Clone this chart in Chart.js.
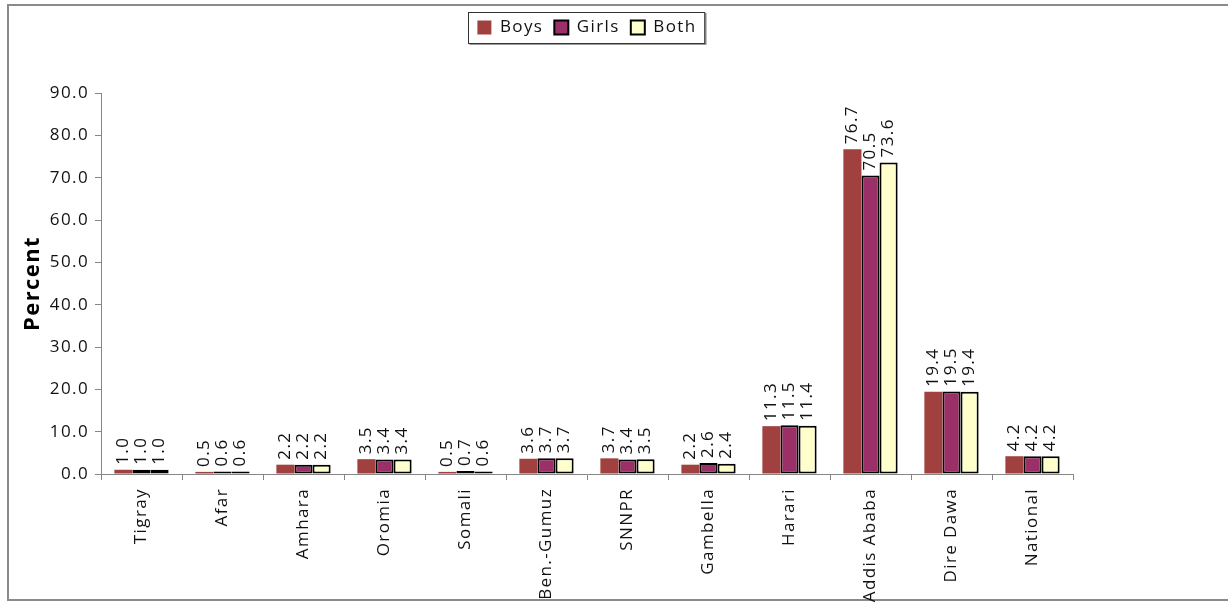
<!DOCTYPE html>
<html>
<head>
<meta charset="utf-8">
<script src="https://cdn.jsdelivr.net/npm/chart.js@4/dist/chart.umd.min.js"></script>
<style>
  html, body { margin: 0; padding: 0; background: #fff; }
  #wrap { width: 1228px; height: 606px; }
</style>
</head>
<body>
<div id="wrap"><canvas id="chart" width="1228" height="606"></canvas></div>
<script>
const regions = ['Tigray', 'Afar', 'Amhara', 'Oromia', 'Somali', 'Ben.-Gumuz', 'SNNPR', 'Gambella', 'Harari', 'Addis Ababa', 'Dire Dawa', 'National'];
const boys  = [1.0, 0.5, 2.2, 3.5, 0.5, 3.6, 3.7, 2.2, 11.3, 76.7, 19.4, 4.2];
const girls = [1.0, 0.6, 2.2, 3.4, 0.7, 3.7, 3.4, 2.6, 11.5, 70.5, 19.5, 4.2];
const both  = [1.0, 0.6, 2.2, 3.4, 0.6, 3.7, 3.5, 2.4, 11.4, 73.6, 19.4, 4.2];
const yTicks = [0, 10, 20, 30, 40, 50, 60, 70, 80, 90];

const FONT = '"Open Sans", sans-serif';
const SPACING = '1.4px';

// spaced-out text like the original PDF render
const spacing = {
  id: 'spacing',
  beforeUpdate(chart) { chart.ctx.letterSpacing = SPACING; },
  beforeDraw(chart) { chart.ctx.letterSpacing = SPACING; }
};

// extra room under the legend
const legendGap = {
  id: 'legendGap',
  beforeInit(chart) {
    const fit = chart.legend.fit;
    chart.legend.fit = function () {
      fit.bind(chart.legend)();
      this.height += 47;
    };
  }
};

// outer frame + legend box
const frame = {
  id: 'frame',
  beforeDraw(chart) {
    const ctx = chart.ctx;
    ctx.save();
    ctx.strokeStyle = '#8a8a8a';
    ctx.lineWidth = 2;
    ctx.beginPath();
    ctx.moveTo(1230, 5);
    ctx.lineTo(8, 5);
    ctx.lineTo(8, 600);
    ctx.lineTo(1230, 600);
    ctx.stroke();
    ctx.restore();
  },
  afterDraw(chart) {
    const boxes = chart.legend.legendHitBoxes;
    if (!boxes || !boxes.length) return;
    const left = Math.min(...boxes.map(b => b.left)) - 9;
    const right = Math.max(...boxes.map(b => b.left + b.width)) + 8;
    const top = Math.min(...boxes.map(b => b.top)) - 7;
    const bottom = Math.max(...boxes.map(b => b.top + b.height)) + 7;
    const ctx = chart.ctx;
    ctx.save();
    ctx.strokeStyle = '#9a9a9a';
    ctx.lineWidth = 2;
    ctx.beginPath();
    ctx.moveTo(left + 1, bottom + 1);
    ctx.lineTo(right + 1, bottom + 1);
    ctx.lineTo(right + 1, top + 1);
    ctx.stroke();
    ctx.strokeStyle = '#333';
    ctx.lineWidth = 1;
    ctx.strokeRect(Math.round(left) + 0.5, Math.round(top) + 0.5, right - left, bottom - top);
    ctx.restore();
  }
};

// rotated value labels above bars
const valueLabels = {
  id: 'valueLabels',
  afterDatasetsDraw(chart) {
    const ctx = chart.ctx;
    chart.data.datasets.forEach((ds, i) => {
      chart.getDatasetMeta(i).data.forEach((bar, j) => {
        ctx.save();
        ctx.font = '17px ' + FONT;
        ctx.fillStyle = '#111';
        ctx.translate(bar.x, bar.y - 5);
        ctx.rotate(-Math.PI / 2);
        ctx.textAlign = 'left';
        ctx.textBaseline = 'middle';
        ctx.fillText(ds.data[j].toFixed(1), 0, 0);
        ctx.restore();
      });
    });
  }
};

new Chart(document.getElementById('chart'), {
  type: 'bar',
  data: {
    labels: regions,
    datasets: [
      { label: 'Boys', data: boys, backgroundColor: '#a0413f', borderWidth: 0 },
      { label: 'Girls', data: girls, backgroundColor: '#9b2f68', borderColor: '#000', borderWidth: 2, borderSkipped: false },
      { label: 'Both', data: both, backgroundColor: '#ffffcc', borderColor: '#000', borderWidth: 2, borderSkipped: false }
    ]
  },
  options: {
    responsive: false,
    animation: false,
    layout: { padding: { top: 8, left: 20, right: 155, bottom: 0 } },
    datasets: { bar: { categoryPercentage: 0.67, barPercentage: 1.0 } },
    plugins: {
      legend: {
        position: 'top',
        fullSize: false,
        labels: {
          boxWidth: 14, boxHeight: 14, padding: 11,
          color: '#111',
          font: { family: FONT, size: 17 }
        }
      },
      tooltip: { enabled: false }
    },
    scales: {
      x: {
        afterFit(scale) { scale.height = 132; },
        grid: { offset: true, drawOnChartArea: false, tickLength: 6, color: '#868686' },
        border: { color: '#868686' },
        ticks: {
          minRotation: 90, maxRotation: 90, autoSkip: false, padding: 8,
          color: '#111', font: { family: FONT, size: 17 }
        }
      },
      y: {
        min: 0, max: 90,
        afterFit(scale) { scale.width = 81; },
        afterBuildTicks(scale) { scale.ticks = yTicks.map(v => ({ value: v })); },
        grid: { drawOnChartArea: false, tickLength: 6, color: '#868686' },
        border: { color: '#868686' },
        ticks: {
          padding: 6, color: '#111',
          font: { family: FONT, size: 17 },
          callback: v => v.toFixed(1)
        },
        title: {
          display: true, text: 'Percent', color: '#000',
          padding: { top: 0, bottom: 0 },
          font: { family: FONT, size: 22, weight: 'bold' }
        }
      }
    }
  },
  plugins: [spacing, legendGap, frame, valueLabels]
});
</script>
</body>
</html>
